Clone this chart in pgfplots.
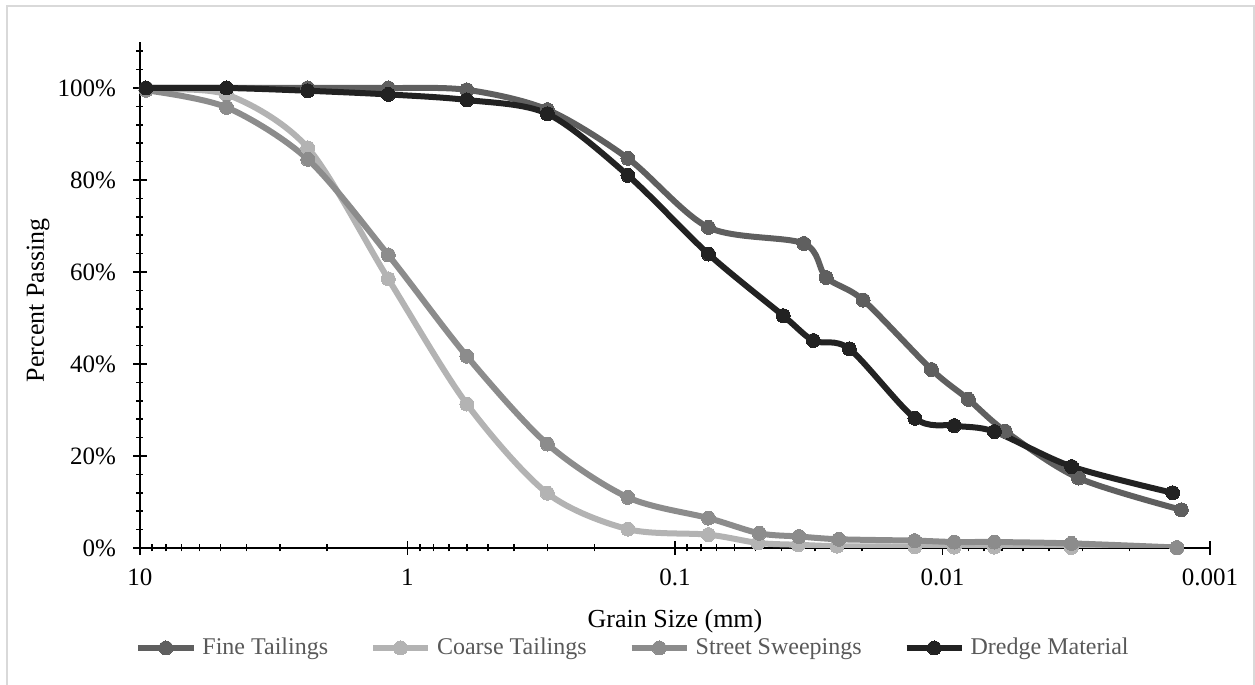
\documentclass[border=0pt]{standalone}
\usepackage{fontspec}
\setmainfont{Liberation Serif}
\usepackage{pgfplots}
\pgfplotsset{compat=1.18}
\definecolor{cFine}{HTML}{5F5F5F}
\definecolor{cCoarse}{HTML}{B3B3B3}
\definecolor{cStreet}{HTML}{8C8C8C}
\definecolor{cDredge}{HTML}{222222}
\definecolor{cBorder}{HTML}{D9D9D9}
\definecolor{cLegText}{HTML}{595959}
\begin{document}
\begin{tikzpicture}
\useasboundingbox (-70pt,-68.5pt) rectangle (557.5pt,274pt);
\draw[color=cBorder, line width=0.8pt] (-66.5pt,-80pt) -- (-66.5pt,271pt) -- (557pt,271pt) -- (557pt,-80pt);
\begin{axis}[
  at={(0pt,0pt)}, anchor=south west,
  scale only axis, width=535pt, height=253pt,
  xmode=log, x dir=reverse,
  xmin=0.001, xmax=10, ymin=0, ymax=110,
  axis x line=bottom, axis y line=left,
  axis line style={-, line width=0.9pt, black},
  xtick={10,1,0.1,0.01,0.001},
  xticklabels={10,1,0.1,0.01,0.001},
  minor xtick={0.002,0.003,0.004,0.005,0.006,0.007,0.008,0.009,
               0.02,0.03,0.04,0.05,0.06,0.07,0.08,0.09,
               0.2,0.3,0.4,0.5,0.6,0.7,0.8,0.9,
               2,3,4,5,6,7,8,9},
  ytick={0,20,40,60,80,100},
  minor ytick={4,8,12,16,24,28,32,36,44,48,52,56,64,68,72,76,84,88,92,96,104,108},
  yticklabel={\pgfmathprintnumber{\tick}\%},
  /pgf/number format/assume math mode=true,
  tick align=center,
  major tick length=7pt, minor tick length=3.5pt,
  tick style={black, line width=0.8pt},
  ticklabel style={font=\fontsize{12.5}{14}\selectfont, black},
  xticklabel style={yshift=-3.5pt},
  yticklabel style={xshift=-5pt},
  every axis x label/.style={at={(axis description cs:0.5,0)}, anchor=center, yshift=-36.5pt, font=\fontsize{13}{15}\selectfont},
  every axis y label/.style={at={(axis description cs:-0.0953,0.49)}, anchor=center, rotate=90, font=\fontsize{13}{15}\selectfont},
  xlabel={Grain Size (mm)},
  ylabel={Percent Passing},
  legend columns=4,
  legend style={draw=none, fill=none, at={(axis description cs:0.4617,0)}, anchor=center, yshift=-50pt,
    font=\fontsize{12}{14}\selectfont, text=cLegText,
    /tikz/every even column/.append style={column sep=19pt},
    /tikz/every odd column/.append style={column sep=1pt}},
  legend image code/.code={
    \draw[#1, mark repeat=2, mark phase=2] plot coordinates {(0pt,0pt) (13.75pt,0pt) (27.5pt,0pt)};
  },
  every axis plot/.append style={line width=3pt, mark=*, mark size=3.5pt, smooth, tension=0.5},
]
\addplot[color=cFine, mark options={fill=cFine, draw=cFine, line width=0pt}] coordinates {
(9.5,100) (4.75,100) (2.36,100) (1.18,100) (0.6,99.6) (0.3,95.3) (0.15,84.7) (0.075,69.7)
(0.033,66.2) (0.0272,58.8) (0.0198,53.9) (0.0110,38.8) (0.0080,32.3) (0.00583,25.4) (0.0031,15.2) (0.00128,8.3)
};
\addlegendentry{Fine Tailings}
\addplot[color=cCoarse, mark options={fill=cCoarse, draw=cCoarse, line width=0pt}] coordinates {
(9.5,99.5) (4.75,98.6) (2.36,87.0) (1.18,58.5) (0.6,31.3) (0.3,11.9) (0.15,4.1) (0.075,2.9)
(0.0489,1.1) (0.0346,0.7) (0.0248,0.4) (0.0127,0.3) (0.00904,0.2) (0.0064,0.2) (0.0033,0.1) (0.00133,0)
};
\addlegendentry{Coarse Tailings}
\addplot[color=cStreet, mark options={fill=cStreet, draw=cStreet, line width=0pt}] coordinates {
(9.5,99.5) (4.75,95.8) (2.36,84.5) (1.18,63.7) (0.6,41.7) (0.3,22.6) (0.15,11.0) (0.075,6.5)
(0.0484,3.2) (0.0344,2.5) (0.0244,1.9) (0.0127,1.6) (0.00904,1.3) (0.0064,1.3) (0.0033,1.0) (0.00133,0.1)
};
\addlegendentry{Street Sweepings}
\addplot[color=cDredge, mark options={fill=cDredge, draw=cDredge, line width=0pt}] coordinates {
(9.5,100) (4.75,100) (2.36,99.4) (1.18,98.6) (0.6,97.4) (0.3,94.4) (0.15,81.0) (0.075,63.9)
(0.0394,50.5) (0.0304,45.1) (0.0223,43.3) (0.01268,28.2) (0.00904,26.6) (0.0064,25.3) (0.00329,17.7) (0.00138,12.0)
};
\addlegendentry{Dredge Material}
\end{axis}
\end{tikzpicture}
\end{document}
